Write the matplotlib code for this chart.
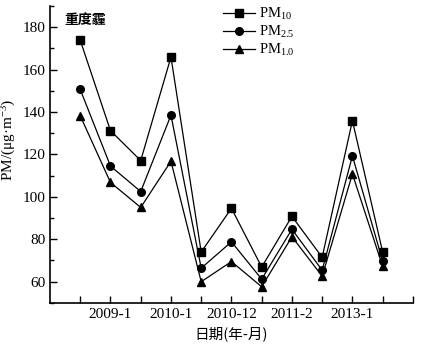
import matplotlib
matplotlib.use("Agg")
import matplotlib.pyplot as plt
from matplotlib.ticker import MultipleLocator

# values
positions = [1, 2, 3, 4, 5, 6, 7, 8, 9, 10, 11]
pm10 = [173.8, 131.2, 117.1, 165.9, 74.0, 94.6, 66.9, 90.8, 71.5, 135.9, 74.0]
pm25 = [150.6, 114.5, 102.5, 138.5, 66.4, 78.8, 61.2, 84.7, 65.4, 119.3, 69.7]
pm1 = [138.2, 106.8, 95.0, 116.8, 60.0, 69.5, 57.6, 81.2, 62.6, 110.8, 67.2]
tick_pos = [1, 2, 3, 4, 5, 6, 7, 8, 9, 10, 11, 12]
tick_labels = ["", "2009-1", "", "2010-1", "", "2010-12", "", "2011-2", "", "2013-1", "", ""]

serif = ["Liberation Serif", "Noto Sans CJK SC"]
cjk = ["Noto Sans CJK SC", "DejaVu Sans"]
plt.rcParams["font.family"] = serif
plt.rcParams["mathtext.fontset"] = "custom"
plt.rcParams["mathtext.rm"] = "Liberation Serif"
plt.rcParams["mathtext.it"] = "Liberation Serif:italic"

fig = plt.figure(figsize=(4.31, 3.47), dpi=100)
ax = fig.add_axes([0.116, 0.127, 0.842, 0.856])

style = dict(color="black", linewidth=0.9, markersize=5.5)
ax.plot(positions, pm10, marker="s", label=r"PM$_{10}$", **style)
ax.plot(positions, pm25, marker="o", label=r"PM$_{2.5}$", **style)
ax.plot(positions, pm1, marker="^", label=r"PM$_{1.0}$", **style)

ax.set_xlim(0, 12)
ax.set_ylim(50, 190)
ax.set_xticks(tick_pos)
ax.set_xticklabels(tick_labels)
ax.yaxis.set_major_locator(MultipleLocator(20))
ax.yaxis.set_minor_locator(MultipleLocator(10))
ax.set_yticks(range(60, 181, 20))
ax.tick_params(direction="in", length=5, width=1, labelsize=11)
ax.tick_params(which="minor", direction="in", length=3, width=1)

for side in ("top", "right"):
    ax.spines[side].set_visible(False)
for side in ("left", "bottom"):
    ax.spines[side].set_linewidth(1.2)

ax.set_ylabel("PM/(μg·m$^{-3}$)", fontsize=11)
ax.yaxis.set_label_coords(-0.088, 0.55)
ax.set_xlabel("日期(年-月)", fontsize=10.5, family=cjk, labelpad=4)
ax.text(0.04, 0.975, "重度霾", transform=ax.transAxes, fontsize=10,
        family=cjk, va="top", ha="left", fontweight="bold")

ax.legend(loc="upper left", bbox_to_anchor=(0.46, 1.02), frameon=False,
          fontsize=10.5, handlelength=2.2, labelspacing=0.15,
          handletextpad=0.3, borderaxespad=0)

fig.savefig("out.png", dpi=100)
